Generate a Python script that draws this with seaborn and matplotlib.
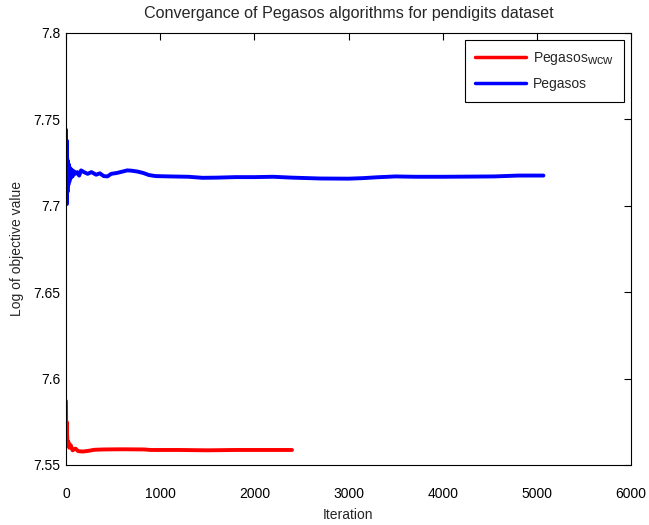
import matplotlib
matplotlib.use("Agg")
import matplotlib.pyplot as plt
import matplotlib._mathtext as mathtext_impl
import numpy as np
import pandas as pd
import seaborn as sns

# Objective value (log) per iteration for the two Pegasos variants
wcw_iter = [0, 3, 6, 9, 12, 18, 25, 35, 50, 70, 100, 130, 180, 240, 300,
            400, 600, 830, 900, 1200, 1500, 1800, 2100, 2400]
wcw_value = [7.587, 7.565, 7.575, 7.561, 7.567, 7.561, 7.5635, 7.560, 7.5615,
             7.5585, 7.5595, 7.5580, 7.5578, 7.5582, 7.5588, 7.5590, 7.5591,
             7.5590, 7.5587, 7.5587, 7.5585, 7.5587, 7.5587, 7.5587]

peg_iter = [0, 3, 6, 9, 12, 16, 20, 25, 30, 36, 42, 50, 60, 70, 85, 100, 120,
            140, 160, 190, 230, 270, 320, 360, 400, 440, 480, 540, 600, 650,
            700, 760, 820, 880, 950, 1100, 1300, 1450, 1600, 1800, 2000, 2200,
            2400, 2700, 3000, 3150, 3300, 3500, 3700, 4000, 4300, 4550, 4800,
            5070]
peg_value = [7.744, 7.703, 7.738, 7.701, 7.728, 7.708, 7.726, 7.712, 7.724,
             7.714, 7.722, 7.716, 7.721, 7.717, 7.720, 7.7185, 7.7195, 7.7175,
             7.7205, 7.7195, 7.7185, 7.7195, 7.718, 7.7188, 7.7172, 7.717,
             7.7185, 7.719, 7.7198, 7.7205, 7.7203, 7.7198, 7.719, 7.7178,
             7.7172, 7.7170, 7.7168, 7.7162, 7.7163, 7.7166, 7.7166, 7.7168,
             7.7163, 7.7158, 7.7157, 7.716, 7.7165, 7.717, 7.7168, 7.7168,
             7.7169, 7.717, 7.7175, 7.7175]

series_labels = ["Pegasos$_{wcw}$", "Pegasos"]
series_colors = ["#ff0000", "#0000ff"]

x_ticks = [0, 1000, 2000, 3000, 4000, 5000, 6000]
y_ticks = [7.55, 7.6, 7.65, 7.7, 7.75, 7.8]
y_tick_labels = ["7.55", "7.6", "7.65", "7.7", "7.75", "7.8"]

df = pd.concat([
    pd.DataFrame({"Iteration": wcw_iter, "value": wcw_value,
                  "series": series_labels[0]}),
    pd.DataFrame({"Iteration": peg_iter, "value": peg_value,
                  "series": series_labels[1]}),
], ignore_index=True)

sns.set_style("white")
plt.rcParams["font.family"] = ["Liberation Sans", "DejaVu Sans"]
plt.rcParams["mathtext.default"] = "regular"
# near full-size subscripts, as in the legend label
mathtext_impl.SHRINK_FACTOR = 0.92

fig = plt.figure(figsize=(6.49, 5.25), dpi=100)
ax = fig.add_axes([66 / 649, 1 - 465 / 525, (631 - 66) / 649, (465 - 33) / 525])

sns.lineplot(data=df, x="Iteration", y="value", hue="series",
             hue_order=series_labels, palette=series_colors,
             linewidth=2.8, estimator=None, sort=False, ax=ax)

ax.set_xlim(0, 6000)
ax.set_ylim(7.55, 7.8)
ax.set_xticks(x_ticks)
ax.set_yticks(y_ticks)
ax.set_yticklabels(y_tick_labels)
ax.tick_params(direction="in", length=5, width=0.8, top=True, right=True,
               labelsize=10, colors="black")
ax.tick_params(axis="y", pad=4)
ax.tick_params(axis="x", pad=16)
for s in ax.spines.values():
    s.set_visible(True)
    s.set_color("black")
    s.set_linewidth(0.8)

ax.set_xlabel("Iteration", fontsize=10, labelpad=5)
ax.set_ylabel("Log of objective value", fontsize=10, labelpad=7)
ax.set_title("Convergance of Pegasos algorithms for pendigits dataset",
             fontsize=11.6, pad=11)

leg = ax.legend(loc="upper right", fontsize=10, frameon=True, fancybox=False,
                edgecolor="black", framealpha=1, handlelength=3.7,
                handletextpad=0.45, labelspacing=0.7, borderaxespad=0.5,
                borderpad=0.75)
leg.get_frame().set_linewidth(0.8)
for line in leg.get_lines():
    line.set_linewidth(2.5)

fig.savefig("out.png", dpi=100)
